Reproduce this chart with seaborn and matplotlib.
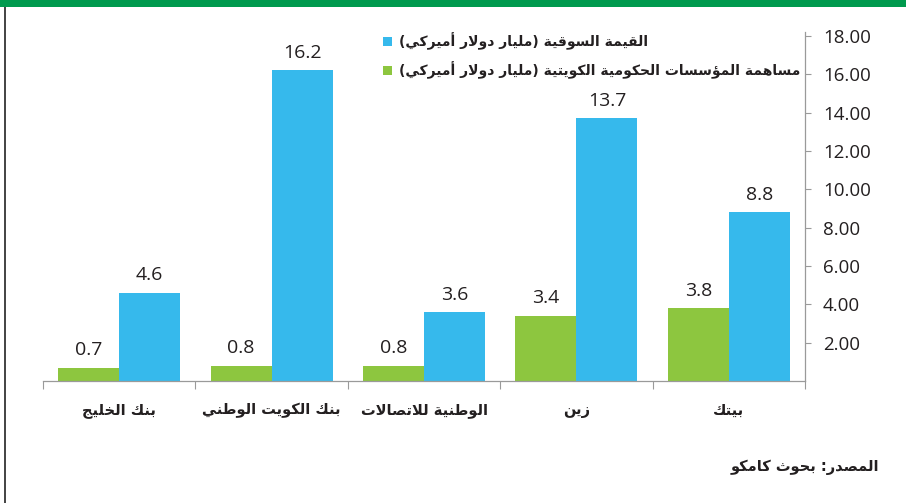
import matplotlib
matplotlib.use("Agg")
import matplotlib.pyplot as plt
from matplotlib.lines import Line2D
from matplotlib.patches import Rectangle
import seaborn as sns
import pandas as pd

# ---------------- data ----------------
categories = ["بنك الخليج", "بنك الكويت الوطني", "الوطنية للاتصالات", "زين", "بيتك"]
market_value = [4.6, 16.2, 3.6, 13.7, 8.8]
gov_share = [0.7, 0.8, 0.8, 3.4, 3.8]
series_market = "القيمة السوقية (مليار دولار أميركي)"
series_gov = "مساهمة المؤسسات الحكومية الكويتية (مليار دولار أميركي)"
y_ticks = [2, 4, 6, 8, 10, 12, 14, 16, 18]
source_text = "المصدر: بحوث كامكو"

BLUE = "#36B9EC"
GREEN = "#8DC63F"
TEXT = "#231F20"

# ---------------- minimal Arabic shaping (contextual forms + RTL order) ----------------
DUAL = {'ب': 0xFE8F, 'ت': 0xFE95, 'ث': 0xFE99, 'ج': 0xFE9D, 'ح': 0xFEA1, 'خ': 0xFEA5,
        'س': 0xFEB1, 'ش': 0xFEB5, 'ص': 0xFEB9, 'ض': 0xFEBD, 'ط': 0xFEC1, 'ظ': 0xFEC5,
        'ع': 0xFEC9, 'غ': 0xFECD, 'ف': 0xFED1, 'ق': 0xFED5, 'ك': 0xFED9, 'ل': 0xFEDD,
        'م': 0xFEE1, 'ن': 0xFEE5, 'ه': 0xFEE9, 'ي': 0xFEF1, 'ئ': 0xFE89}
RIGHT = {'ا': 0xFE8D, 'أ': 0xFE83, 'إ': 0xFE87, 'آ': 0xFE81, 'ؤ': 0xFE85, 'ة': 0xFE93,
         'د': 0xFEA9, 'ذ': 0xFEAB, 'ر': 0xFEAD, 'ز': 0xFEAF, 'و': 0xFEED, 'ى': 0xFEEF}
LAMALEF = {'ا': 0xFEFB, 'أ': 0xFEF7, 'إ': 0xFEF9, 'آ': 0xFEF5}


def ar(s):
    out = []
    n = len(s)
    i = 0
    while i < n:
        c = s[i]
        prev = s[i - 1] if i > 0 else ''
        pc = prev in DUAL
        if c == 'ل' and i + 1 < n and s[i + 1] in LAMALEF:
            out.append(chr(LAMALEF[s[i + 1]] + (1 if pc else 0)))
            i += 2
            continue
        nxt = s[i + 1] if i + 1 < n else ''
        if c in DUAL:
            nc = (nxt in DUAL) or (nxt in RIGHT)
            form = 3 if (pc and nc) else 1 if pc else 2 if nc else 0
            out.append(chr(DUAL[c] + form))
        elif c in RIGHT:
            out.append(chr(RIGHT[c] + (1 if pc else 0)))
        else:
            out.append(c)
        i += 1
    vis = ''.join(out)[::-1]
    return vis.translate(str.maketrans('()', ')('))


# ---------------- dataframe ----------------
df = pd.DataFrame({
    "category": categories * 2,
    "series": [series_gov] * len(categories) + [series_market] * len(categories),
    "value": gov_share + market_value,
})

sns.set_theme(style="white")
plt.rcParams['font.family'] = ['Open Sans', 'DejaVu Sans']

fig = plt.figure(figsize=(9.06, 5.03), dpi=100)
fig.patch.set_facecolor("white")
ax = fig.add_axes([0.0475, 0.2425, 0.841, 0.6938])

sns.barplot(data=df, x="category", y="value", hue="series",
            order=categories, hue_order=[series_gov, series_market],
            palette=[GREEN, BLUE], width=0.8, saturation=1, ax=ax,
            legend=False, edgecolor="none", linewidth=0)

for cont in ax.containers:
    ax.bar_label(cont, fmt="%.1f", padding=6, fontsize=14, color=TEXT)

ax.set_xlim(-0.5, len(categories) - 0.5)
ax.set_ylim(0, 18.2)
ax.set_xlabel("")
ax.set_ylabel("")

# y axis on the right
ax.yaxis.tick_right()
ax.set_yticks(y_ticks)
ax.set_yticklabels([f"{v:.2f}" for v in y_ticks], fontsize=13.5, color=TEXT)
ax.tick_params(axis="y", which="major", length=4, width=0.8, color="#9a9a9a",
               right=True, left=False, pad=9)

# x axis: labels at centres, tick marks at group boundaries
ax.set_xticks(range(len(categories)))
ax.set_xticklabels([ar(c) for c in categories], fontsize=10.5, color=TEXT,
                   family=['DejaVu Sans'], fontweight='bold')
ax.tick_params(axis="x", which="major", length=0, pad=16)
ax.set_xticks([i - 0.5 for i in range(len(categories) + 1)], minor=True)
ax.tick_params(axis="x", which="minor", length=6, width=0.8, color="#9a9a9a", bottom=True)

for side in ["top", "left"]:
    ax.spines[side].set_visible(False)
for side in ["right", "bottom"]:
    ax.spines[side].set_color("#9a9a9a")
    ax.spines[side].set_linewidth(0.9)

# legend (blue first, then green)
h_gov = ax.containers[0].patches[0]
h_mkt = ax.containers[1].patches[0]
leg = fig.legend([h_mkt, h_gov], [ar(series_market), ar(series_gov)],
                 loc="upper right", bbox_to_anchor=(0.897, 0.960),
                 frameon=False, handlelength=0.65, handleheight=0.65,
                 handletextpad=0.5, labelspacing=0.8,
                 prop={'family': ['DejaVu Sans'], 'size': 10, 'weight': 'bold'})
for t in leg.get_texts():
    t.set_color(TEXT)

# decorations: green band on top, thin dark rule on the left
fig.patches.append(Rectangle((0, 0.986), 1, 0.014, transform=fig.transFigure,
                             facecolor="#009A4E", edgecolor="none", zorder=5))
fig.lines.append(Line2D([0.006, 0.006], [0, 0.986], transform=fig.transFigure,
                        color="#222222", linewidth=1.2))

fig.text(0.97, 0.070, ar(source_text), ha="right", va="center", fontsize=10.5,
         color=TEXT, family=['DejaVu Sans'], fontweight='bold')

fig.savefig("out.png", dpi=100)
